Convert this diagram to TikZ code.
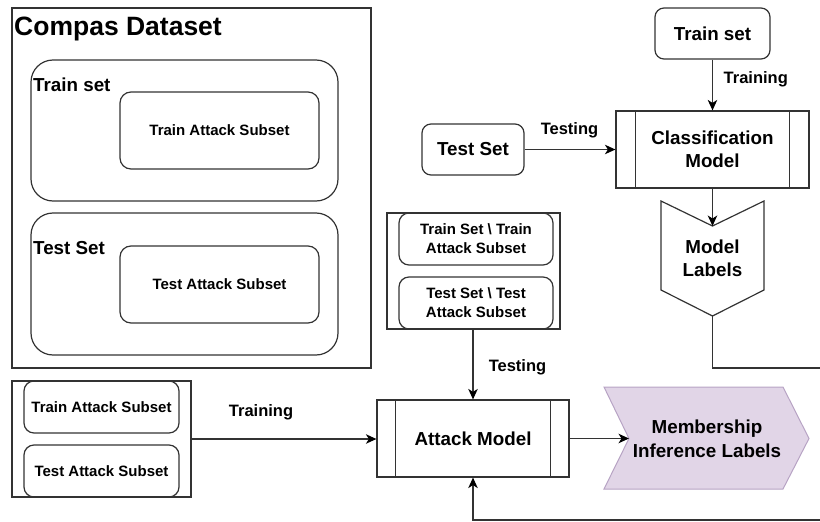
\documentclass[tikz,border=0pt]{standalone}
\usepackage{fontspec}
\setmainfont{Liberation Sans}
\usetikzlibrary{arrows.meta,calc}
\definecolor{linecol}{HTML}{333333}
\definecolor{purfill}{HTML}{E1D5E7}
\definecolor{purline}{HTML}{B7A3C4}
\newcommand{\fsTitle}{\fontsize{26.5}{30}\selectfont\bfseries}
\newcommand{\fsMain}{\fontsize{18.8}{23.5}\selectfont\bfseries}
\newcommand{\fsSmall}{\fontsize{15}{19}\selectfont\bfseries}
\newcommand{\fsLab}{\fontsize{16.5}{20}\selectfont\bfseries}
\tikzset{
  plainbox/.style={draw=linecol, line width=1.2pt, inner sep=0pt, align=center},
  rbox/.style={plainbox, rounded corners=#1},
  rbox/.default=9pt,
  procbox/.style={plainbox, font=\fsMain},
  edgelab/.style={inner sep=0pt, font=\fsLab},
  arr/.style={draw=linecol, line width=1.2pt, -{Stealth[length=10.5pt,width=9.5pt,inset=3pt,color=black]}},
  conn/.style={draw=linecol, line width=1.2pt},
}
\begin{document}
\begin{tikzpicture}[x=1pt,y=-1pt]
\useasboundingbox (0,0) rectangle (820,522);

% Compas dataset panel
\node[plainbox, minimum width=359pt, minimum height=360pt] (compas) at (191.5,188) {};
\node[anchor=base west, inner sep=0pt, font=\fsTitle] (title) at (14,35) {Compas Dataset};
\node[rbox=22pt, minimum width=307pt, minimum height=141pt] (trainbig) at (184.5,130.5) {};
\node[anchor=base west, inner sep=0pt, font=\fsMain] (trainlab) at (33,91) {Train set};
\node[rbox=11pt, minimum width=199pt, minimum height=77pt, font=\fsSmall] (trainsub) at (219.5,130.5) {Train Attack Subset};
\node[rbox=22pt, minimum width=307pt, minimum height=142pt] (testbig) at (184.5,284) {};
\node[anchor=base west, inner sep=0pt, font=\fsMain] (testlab) at (33,254) {Test Set};
\node[rbox=11pt, minimum width=199pt, minimum height=77pt, font=\fsSmall] (testsub) at (219.5,284.5) {Test Attack Subset};

% left bottom group
\node[plainbox, minimum width=179pt, minimum height=116pt] (leftgrp) at (101.5,439) {};
\node[rbox=10pt, minimum width=155pt, minimum height=52pt, font=\fsSmall] (lg1) at (101.5,407) {Train Attack Subset};
\node[rbox=10pt, minimum width=155pt, minimum height=52pt, font=\fsSmall] (lg2) at (101.5,471) {Test Attack Subset};

% testing group
\node[plainbox, minimum width=173pt, minimum height=116pt] (testgrp) at (473.5,271) {};
\node[rbox=10pt, minimum width=154pt, minimum height=52pt, font=\fsSmall] (tg1) at (476,239) {Train Set \textbackslash{} Train\\Attack Subset};
\node[rbox=10pt, minimum width=154pt, minimum height=52pt, font=\fsSmall] (tg2) at (476,303) {Test Set \textbackslash{} Test\\Attack Subset};

% top right
\node[rbox=9pt, minimum width=115pt, minimum height=51pt, font=\fsMain] (trainset) at (712.5,33.5) {Train set};
\node[rbox=9pt, minimum width=102pt, minimum height=51pt, font=\fsMain] (testset) at (473,149.5) {Test Set};
\node[procbox, minimum width=193pt, minimum height=77pt] (classif) at (712.5,149.5) {Classification\\Model};
\draw[conn] ($(classif.north west)+(20,0)$) -- ($(classif.south west)+(20,0)$);
\draw[conn] ($(classif.north east)+(-20,0)$) -- ($(classif.south east)+(-20,0)$);

% model labels shape
\coordinate (mlnotch) at (712.5,226);
\coordinate (mltip) at (712.5,316);
\draw[conn, line join=miter] (661,201) -- (mlnotch) -- (764,201) -- (764,290) -- (mltip) -- (661,290) -- cycle;
\node[inner sep=0pt, align=center, font=\fsMain] (mltext) at (712.5,258.5) {Model\\Labels};

% attack model
\node[procbox, minimum width=192pt, minimum height=77pt] (attack) at (473,438.5) {Attack Model};
\draw[conn] ($(attack.north west)+(19,0)$) -- ($(attack.south west)+(19,0)$);
\draw[conn] ($(attack.north east)+(-19,0)$) -- ($(attack.south east)+(-19,0)$);

% membership shape
\coordinate (minotch) at (629,438.5);
\filldraw[fill=purfill, draw=purline, line width=1pt] (604,387) -- (783,387) -- (809,438.5) -- (783,489) -- (604,489) -- (minotch) -- cycle;
\node[inner sep=0pt, align=center, font=\fsMain] (mitext) at (707,439) {Membership\\Inference Labels};

% connectors
\draw[arr] (trainset.south) -- (classif.north);
\node[edgelab, anchor=west] (lbtrain1) at (723.5,79) {Training};
\draw[arr] (testset.east) -- (classif.west);
\node[edgelab] (lbtest1) at (569.5,130) {Testing};
\draw[arr] (classif.south) -- (mlnotch);
\coordinate (rightA) at (820,368);
\draw[conn] (mltip) -- (mltip |- rightA) -- (rightA);
\draw[arr] (testgrp.south -| attack.north) -- (attack.north);
\node[edgelab] (lbtest2) at (517.5,367) {Testing};
\draw[arr] (leftgrp.east) -- (leftgrp.east -| attack.west);
\node[edgelab] (lbtrain2) at (261,412) {Training};
\draw[arr] (attack.east) -- (minotch);
\coordinate (rightB) at (820,520);
\draw[arr] (rightB) -- (attack.south |- rightB) -- (attack.south);
\end{tikzpicture}
\end{document}
